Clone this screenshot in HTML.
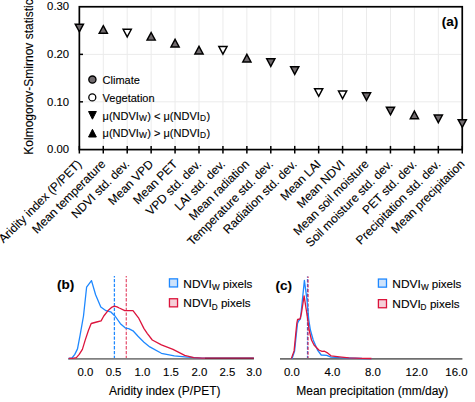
<!DOCTYPE html><html><head><meta charset="utf-8"><style>html,body{margin:0;padding:0;background:#fff;width:475px;height:402px;overflow:hidden}svg{display:block}text{font-family:"Liberation Sans",sans-serif;fill:#000;stroke:#000;stroke-width:0.12px}</style></head><body>
<svg width="475" height="402" viewBox="0 0 475 402">
<g stroke="#ebebeb" stroke-width="1">
<line x1="103.28" y1="7.5" x2="103.28" y2="148.5"/>
<line x1="127.21" y1="7.5" x2="127.21" y2="148.5"/>
<line x1="151.14" y1="7.5" x2="151.14" y2="148.5"/>
<line x1="175.07" y1="7.5" x2="175.07" y2="148.5"/>
<line x1="199.01" y1="7.5" x2="199.01" y2="148.5"/>
<line x1="222.94" y1="7.5" x2="222.94" y2="148.5"/>
<line x1="246.87" y1="7.5" x2="246.87" y2="148.5"/>
<line x1="270.80" y1="7.5" x2="270.80" y2="148.5"/>
<line x1="294.73" y1="7.5" x2="294.73" y2="148.5"/>
<line x1="318.66" y1="7.5" x2="318.66" y2="148.5"/>
<line x1="342.59" y1="7.5" x2="342.59" y2="148.5"/>
<line x1="366.52" y1="7.5" x2="366.52" y2="148.5"/>
<line x1="390.46" y1="7.5" x2="390.46" y2="148.5"/>
<line x1="414.39" y1="7.5" x2="414.39" y2="148.5"/>
<line x1="438.32" y1="7.5" x2="438.32" y2="148.5"/>
<line x1="80" y1="101.83" x2="461.3" y2="101.83"/>
<line x1="80" y1="54.36" x2="461.3" y2="54.36"/>
</g>
<rect x="79.35" y="6.75" width="382.90" height="142.85" fill="none" stroke="#000" stroke-width="1.7"/>
<line x1="79.35" y1="101.83" x2="83" y2="101.83" stroke="#000" stroke-width="1.5"/>
<line x1="79.35" y1="54.36" x2="83" y2="54.36" stroke="#000" stroke-width="1.5"/>
<line x1="79.35" y1="145.9" x2="79.35" y2="153.5" stroke="#000" stroke-width="1.5"/>
<line x1="103.28" y1="145.9" x2="103.28" y2="153.5" stroke="#000" stroke-width="1.5"/>
<line x1="127.21" y1="145.9" x2="127.21" y2="153.5" stroke="#000" stroke-width="1.5"/>
<line x1="151.14" y1="145.9" x2="151.14" y2="153.5" stroke="#000" stroke-width="1.5"/>
<line x1="175.07" y1="145.9" x2="175.07" y2="153.5" stroke="#000" stroke-width="1.5"/>
<line x1="199.01" y1="145.9" x2="199.01" y2="153.5" stroke="#000" stroke-width="1.5"/>
<line x1="222.94" y1="145.9" x2="222.94" y2="153.5" stroke="#000" stroke-width="1.5"/>
<line x1="246.87" y1="145.9" x2="246.87" y2="153.5" stroke="#000" stroke-width="1.5"/>
<line x1="270.80" y1="145.9" x2="270.80" y2="153.5" stroke="#000" stroke-width="1.5"/>
<line x1="294.73" y1="145.9" x2="294.73" y2="153.5" stroke="#000" stroke-width="1.5"/>
<line x1="318.66" y1="145.9" x2="318.66" y2="153.5" stroke="#000" stroke-width="1.5"/>
<line x1="342.59" y1="145.9" x2="342.59" y2="153.5" stroke="#000" stroke-width="1.5"/>
<line x1="366.52" y1="145.9" x2="366.52" y2="153.5" stroke="#000" stroke-width="1.5"/>
<line x1="390.46" y1="145.9" x2="390.46" y2="153.5" stroke="#000" stroke-width="1.5"/>
<line x1="414.39" y1="145.9" x2="414.39" y2="153.5" stroke="#000" stroke-width="1.5"/>
<line x1="438.32" y1="145.9" x2="438.32" y2="153.5" stroke="#000" stroke-width="1.5"/>
<line x1="462.25" y1="145.9" x2="462.25" y2="153.5" stroke="#000" stroke-width="1.5"/>
<text x="69.1" y="9.99" font-size="11.3" text-anchor="end">0.30</text>
<text x="69.1" y="58.26" font-size="11.3" text-anchor="end">0.20</text>
<text x="69.1" y="105.73" font-size="11.3" text-anchor="end">0.10</text>
<text x="69.1" y="153.20" font-size="11.3" text-anchor="end">0.00</text>
<text transform="translate(33.3,154.7) rotate(-90)" font-size="12">Kolmogorov-Smirnov statistic</text>
<text transform="translate(82.35,164.8) rotate(-45)" font-size="12" text-anchor="end">Aridity index (P/PET)</text>
<text transform="translate(106.28,164.8) rotate(-45)" font-size="12" text-anchor="end">Mean temperature</text>
<text transform="translate(130.21,164.8) rotate(-45)" font-size="12" text-anchor="end">NDVI std. dev.</text>
<text transform="translate(154.14,164.8) rotate(-45)" font-size="12" text-anchor="end">Mean VPD</text>
<text transform="translate(178.07,164.8) rotate(-45)" font-size="12" text-anchor="end">Mean PET</text>
<text transform="translate(202.01,164.8) rotate(-45)" font-size="12" text-anchor="end">VPD std. dev.</text>
<text transform="translate(225.94,164.8) rotate(-45)" font-size="12" text-anchor="end">LAI std. dev.</text>
<text transform="translate(249.87,164.8) rotate(-45)" font-size="12" text-anchor="end">Mean radiation</text>
<text transform="translate(273.80,164.8) rotate(-45)" font-size="12" text-anchor="end">Temperature std. dev.</text>
<text transform="translate(297.73,164.8) rotate(-45)" font-size="12" text-anchor="end">Radiation std. dev.</text>
<text transform="translate(321.66,164.8) rotate(-45)" font-size="12" text-anchor="end">Mean LAI</text>
<text transform="translate(345.59,164.8) rotate(-45)" font-size="12" text-anchor="end">Mean NDVI</text>
<text transform="translate(369.52,164.8) rotate(-45)" font-size="12" text-anchor="end">Mean soil moisture</text>
<text transform="translate(393.46,164.8) rotate(-45)" font-size="12" text-anchor="end">Soil moisture std. dev.</text>
<text transform="translate(417.39,164.8) rotate(-45)" font-size="12" text-anchor="end">PET std. dev.</text>
<text transform="translate(441.32,164.8) rotate(-45)" font-size="12" text-anchor="end">Precipitation std. dev.</text>
<text transform="translate(465.25,164.8) rotate(-45)" font-size="12" text-anchor="end">Mean precipitation</text>
<polygon points="79.35,31.79 83.45,24.19 75.25,24.19" fill="#716b6e" stroke="#000" stroke-width="1.45" stroke-linejoin="miter"/>
<polygon points="103.28,25.66 107.38,33.26 99.18,33.26" fill="#716b6e" stroke="#000" stroke-width="1.45" stroke-linejoin="miter"/>
<polygon points="127.21,36.94 131.31,29.34 123.11,29.34" fill="#fff" stroke="#000" stroke-width="1.45" stroke-linejoin="miter"/>
<polygon points="151.14,32.51 155.24,40.11 147.04,40.11" fill="#716b6e" stroke="#000" stroke-width="1.45" stroke-linejoin="miter"/>
<polygon points="175.07,39.36 179.17,46.96 170.97,46.96" fill="#716b6e" stroke="#000" stroke-width="1.45" stroke-linejoin="miter"/>
<polygon points="199.01,46.36 203.11,53.96 194.91,53.96" fill="#716b6e" stroke="#000" stroke-width="1.45" stroke-linejoin="miter"/>
<polygon points="222.94,54.14 227.04,46.54 218.84,46.54" fill="#fff" stroke="#000" stroke-width="1.45" stroke-linejoin="miter"/>
<polygon points="246.87,54.36 250.97,61.96 242.77,61.96" fill="#716b6e" stroke="#000" stroke-width="1.45" stroke-linejoin="miter"/>
<polygon points="270.80,66.44 274.90,58.84 266.70,58.84" fill="#716b6e" stroke="#000" stroke-width="1.45" stroke-linejoin="miter"/>
<polygon points="294.73,74.44 298.83,66.84 290.63,66.84" fill="#716b6e" stroke="#000" stroke-width="1.45" stroke-linejoin="miter"/>
<polygon points="318.66,96.29 322.76,88.69 314.56,88.69" fill="#fff" stroke="#000" stroke-width="1.45" stroke-linejoin="miter"/>
<polygon points="342.59,98.69 346.69,91.09 338.49,91.09" fill="#fff" stroke="#000" stroke-width="1.45" stroke-linejoin="miter"/>
<polygon points="366.52,100.39 370.62,92.79 362.42,92.79" fill="#716b6e" stroke="#000" stroke-width="1.45" stroke-linejoin="miter"/>
<polygon points="390.46,114.79 394.56,107.19 386.36,107.19" fill="#716b6e" stroke="#000" stroke-width="1.45" stroke-linejoin="miter"/>
<polygon points="414.39,111.06 418.49,118.66 410.29,118.66" fill="#716b6e" stroke="#000" stroke-width="1.45" stroke-linejoin="miter"/>
<polygon points="438.32,122.69 442.42,115.09 434.22,115.09" fill="#716b6e" stroke="#000" stroke-width="1.45" stroke-linejoin="miter"/>
<polygon points="462.25,127.29 466.35,119.69 458.15,119.69" fill="#716b6e" stroke="#000" stroke-width="1.45" stroke-linejoin="miter"/>
<circle cx="92.4" cy="79.6" r="3.6" fill="#716b6e" stroke="#000" stroke-width="1.3"/>
<circle cx="92.3" cy="97.4" r="3.5" fill="#fff" stroke="#000" stroke-width="1.3"/>
<polygon points="92.45,119.20 96.35,111.50 88.55,111.50" fill="#000" stroke="#000" stroke-width="1.0" stroke-linejoin="miter"/>
<polygon points="92.45,129.30 96.35,137.00 88.55,137.00" fill="#000" stroke="#000" stroke-width="1.0" stroke-linejoin="miter"/>
<text x="102.6" y="84.0" font-size="11">Climate</text>
<text x="102.6" y="101.6" font-size="11">Vegetation</text>
<text x="102.6" y="119.6" font-size="11">μ(NDVI<tspan font-size="8.4" dx="0.2" dy="1.4">W</tspan><tspan dx="0.3" dy="-1.4">) &lt; μ(NDVI</tspan><tspan font-size="8.4" dx="0.3" dy="1.4">D</tspan><tspan dx="0.3" dy="-1.4">)</tspan></text>
<text x="102.6" y="136.6" font-size="11">μ(NDVI<tspan font-size="8.4" dx="0.2" dy="1.4">W</tspan><tspan dx="0.3" dy="-1.4">) &gt; μ(NDVI</tspan><tspan font-size="8.4" dx="0.3" dy="1.4">D</tspan><tspan dx="0.3" dy="-1.4">)</tspan></text>
<text x="458.3" y="26" font-size="13.5" font-weight="bold" text-anchor="end">(a)</text>
<text x="57" y="289.3" font-size="13.5" font-weight="bold">(b)</text>
<line x1="68.2" y1="358.8" x2="253.9" y2="358.8" stroke="#808080" stroke-width="1.8"/>
<text x="85.4" y="375.6" font-size="11.4" text-anchor="middle">0.0</text>
<text x="113.55" y="375.6" font-size="11.4" text-anchor="middle">0.5</text>
<text x="142.45" y="375.6" font-size="11.4" text-anchor="middle">1.0</text>
<text x="171.0" y="375.6" font-size="11.4" text-anchor="middle">1.5</text>
<text x="199.4" y="375.6" font-size="11.4" text-anchor="middle">2.0</text>
<text x="227.35" y="375.6" font-size="11.4" text-anchor="middle">2.5</text>
<text x="254.05" y="375.6" font-size="11.4" text-anchor="middle">3.0</text>
<text x="164.8" y="394.7" font-size="12" text-anchor="middle">Aridity index (P/PET)</text>
<line x1="114.4" y1="276" x2="114.4" y2="358" stroke="#1e88ff" stroke-width="1.25" stroke-dasharray="3.3,1.5" stroke-dashoffset="1.9"/>
<line x1="126.3" y1="276" x2="126.3" y2="358" stroke="#dc143c" stroke-opacity="0.72" stroke-width="1.25" stroke-dasharray="3.3,1.5" stroke-dashoffset="1.9"/>
<polyline fill="none" stroke="#1e88ff" stroke-width="1.3" stroke-linejoin="round" points="68.7,358.5 72.0,358.0 74.8,354.4 77.5,348.9 80.2,334.6 83.5,316.0 86.6,287.2 91.5,280.6 95.6,294.8 100.8,306.9 106.0,310.7 110.6,311.8 115.0,316.0 120.4,323.7 125.4,328.1 128.7,328.6 133.0,330.8 138.0,336.3 144.0,342.3 149.8,346.9 161.4,353.3 174.3,355.9 187.3,357.2 202.0,358.1 253.9,358.2"/>
<polyline fill="none" stroke="#dc143c" stroke-width="1.3" stroke-linejoin="round" points="68.7,358.4 72.6,358.3 76.4,357.6 79.2,354.4 82.4,349.4 85.2,340.1 88.5,330.2 91.2,323.5 96.7,322.0 101.1,320.9 103.8,316.0 108.4,310.2 111.5,307.4 114.4,306.2 117.0,306.8 119.3,308.0 124.8,310.7 133.0,310.7 138.5,317.8 144.0,328.6 147.2,333.3 152.3,340.0 161.4,344.9 173.0,349.4 184.7,355.3 193.7,357.6 202.0,358.2 253.9,358.2"/>
<line x1="205" y1="358.4" x2="253.9" y2="358.4" stroke="#8e1f45" stroke-width="1.3"/>
<rect x="169.45" y="278.85" width="8.1" height="8.1" fill="#cfe3fb" stroke="#1e88ff" stroke-width="1.3"/>
<rect x="169.45" y="298.75" width="8.1" height="8.1" fill="#f5cfd8" stroke="#dc143c" stroke-width="1.3"/>
<text transform="translate(183.3,287.7) scale(1.03,1)" font-size="11.6">NDVI</text><text x="211.9" y="290.09999999999997" font-size="8.2">W</text><text x="222.7" y="287.7" font-size="11.6">pixels</text>
<text transform="translate(183.3,307.4) scale(1.03,1)" font-size="11.6">NDVI</text><text x="211.7" y="309.79999999999995" font-size="8.2">D</text><text x="220.9" y="307.4" font-size="11.6">pixels</text>
<text x="275.6" y="289.8" font-size="13.5" font-weight="bold">(c)</text>
<line x1="280" y1="358.9" x2="462.4" y2="358.9" stroke="#6e6e6e" stroke-width="1.8"/>
<text x="291.85" y="375.6" font-size="11.4" text-anchor="middle">0.0</text>
<text x="332.45" y="375.6" font-size="11.4" text-anchor="middle">4.0</text>
<text x="372.95" y="375.6" font-size="11.4" text-anchor="middle">8.0</text>
<text x="416.7" y="375.6" font-size="11.4" text-anchor="middle">12.0</text>
<text x="456.45" y="375.6" font-size="11.4" text-anchor="middle">16.0</text>
<text x="372.3" y="394.7" font-size="12" text-anchor="middle">Mean precipitation (mm/day)</text>
<line x1="307.5" y1="276.6" x2="307.5" y2="358" stroke="#1e88ff" stroke-width="1.25" stroke-dasharray="3.3,1.5" stroke-dashoffset="2.4"/>
<line x1="308.0" y1="276.6" x2="308.0" y2="358" stroke="#dc143c" stroke-opacity="0.85" stroke-width="1.25" stroke-dasharray="3.3,1.5" stroke-dashoffset="1.9"/>
<polyline fill="none" stroke="#1e88ff" stroke-width="1.3" stroke-linejoin="round" points="292.0,358.8 294.6,351.0 296.3,334.4 297.5,323.5 298.6,321.0 300.5,318.5 304.4,280.4 307.0,300.0 308.8,320.0 310.4,330.0 313.2,340.0 317.5,350.0 321.2,355.0 326.7,355.3 331.0,357.2 339.4,357.7 362.0,358.5 371.5,358.6"/>
<polyline fill="none" stroke="#dc143c" stroke-width="1.3" stroke-linejoin="round" points="291.3,358.6 294.1,350.9 295.7,334.4 296.8,323.5 297.6,319.5 300.1,318.9 301.5,313.0 304.1,295.9 306.3,310.0 307.8,320.0 309.1,330.0 311.5,340.0 314.0,345.0 318.8,350.0 322.0,351.3 324.5,351.2 327.0,352.6 331.0,355.8 339.4,356.8 348.8,357.9 362.0,358.3 371.5,358.5"/>
<rect x="378.4" y="279.05" width="8.1" height="8.1" fill="#cfe3fb" stroke="#1e88ff" stroke-width="1.3"/>
<rect x="378.4" y="299.65" width="8.1" height="8.1" fill="#f5cfd8" stroke="#dc143c" stroke-width="1.3"/>
<text transform="translate(392.3,287.7) scale(1.03,1)" font-size="11.6">NDVI</text><text x="421.1" y="290.09999999999997" font-size="8.2">W</text><text x="431.7" y="287.7" font-size="11.6">pixels</text>
<text transform="translate(392.3,307.8) scale(1.03,1)" font-size="11.6">NDVI</text><text x="420.6" y="310.2" font-size="8.2">D</text><text x="429.9" y="307.8" font-size="11.6">pixels</text>
</svg></body></html>
